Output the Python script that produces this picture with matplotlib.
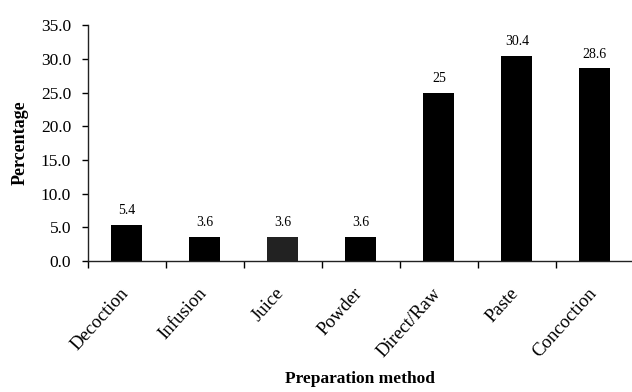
import matplotlib
matplotlib.use("Agg")
import matplotlib.pyplot as plt
import matplotlib.transforms as mtransforms
import numpy as np
from matplotlib.ticker import FixedLocator

plt.rcParams['font.family'] = ['Liberation Serif', 'DejaVu Serif']

methods = ["Decoction", "Infusion", "Juice", "Powder", "Direct/Raw", "Paste", "Concoction"]
percent = [5.4, 3.6, 3.6, 3.6, 25.0, 30.4, 28.6]
value_text = ["5.4", "3.6", "3.6", "3.6", "25", "30.4", "28.6"]
bar_colors = ["#000000", "#000000", "#222222", "#000000", "#000000", "#000000", "#000000"]
y_ticks = [0, 5, 10, 15, 20, 25, 30, 35]

fig = plt.figure(figsize=(6.32, 3.92), dpi=100)
ax = fig.add_axes([0.139, 0.334, 0.864, 0.602])

x = np.arange(len(methods)) + 0.5
bars = ax.bar(x, percent, width=0.4, color=bar_colors, edgecolor='none')

for xi, v, t in zip(x, percent, value_text):
    ax.annotate(t, (xi, v), xytext=(0, 5.5), textcoords='offset points',
                ha='center', va='bottom', fontsize=10)

ax.set_xlim(0, len(methods))
ax.set_ylim(0, 35)
ax.set_yticks(y_ticks)
ax.set_yticklabels([f"{t:.1f}" for t in y_ticks], fontsize=12.5)

# ticks sit on category boundaries, labels at bar centres
ax.xaxis.set_major_locator(FixedLocator(np.arange(len(methods))))
ax.xaxis.set_minor_locator(FixedLocator(x))
ax.set_xticklabels([""] * len(methods))
ax.set_xticklabels(methods, minor=True, rotation=48, ha='right', fontsize=13.5)
ax.tick_params(axis='x', which='minor', length=0, pad=17)
ax.tick_params(axis='x', which='major', length=5, width=1, direction='out')
ax.tick_params(axis='y', length=4, width=1, direction='out', pad=8)

# nudge the slanted names a little to the right
shift = mtransforms.ScaledTranslation(5 / 100, 0, fig.dpi_scale_trans)
for lbl in ax.get_xticklabels(minor=True):
    lbl.set_transform(lbl.get_transform() + shift)

for s in ['top', 'right']:
    ax.spines[s].set_visible(False)
for s in ['left', 'bottom']:
    ax.spines[s].set_linewidth(1)
    ax.spines[s].set_color('#222222')

ax.set_ylabel("Percentage", fontsize=13, fontweight='bold', labelpad=9)
fig.text(0.57, 0.033, "Preparation method", ha='center', va='center',
         fontsize=12.5, fontweight='bold')

fig.savefig("out.png", dpi=100)
